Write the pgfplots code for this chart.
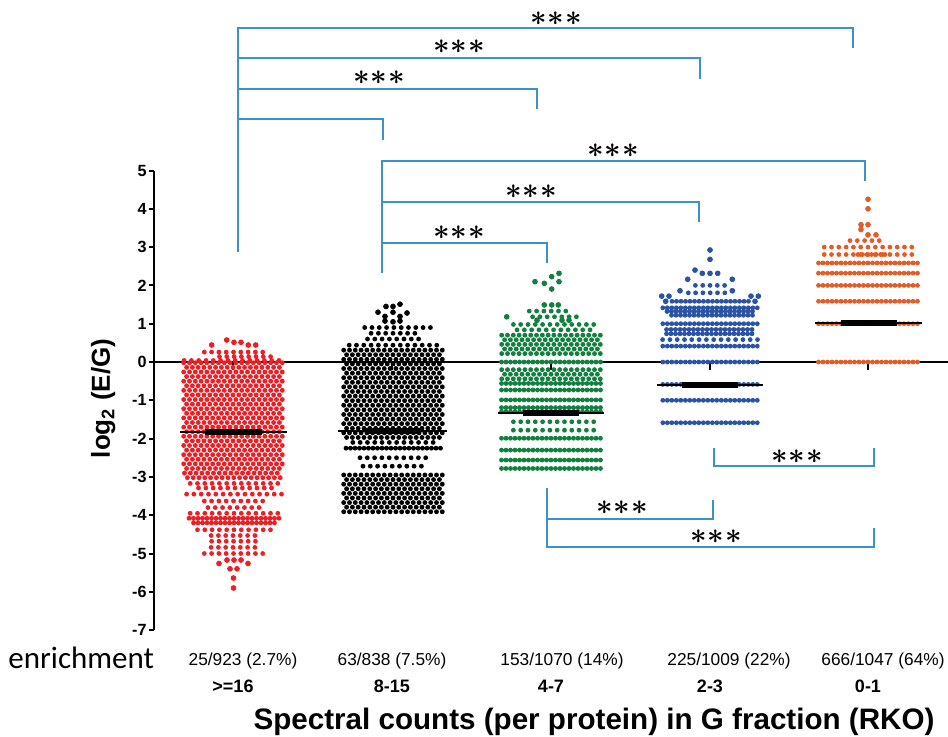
\documentclass[border=0pt]{standalone}
\usepackage{pgfplots}
\pgfplotsset{compat=1.18}
\usepackage{fontspec}
\setmainfont{Liberation Sans}
\newfontfamily\calibri{Carlito}
\definecolor{cred}{RGB}{237,30,36}
\definecolor{cgreen}{RGB}{18,128,62}
\definecolor{cblue}{RGB}{42,82,165}
\definecolor{corange}{RGB}{226,92,38}
\definecolor{cbrk}{RGB}{62,142,210}
\pgfplotsset{
 rowS/.style={no markers, line width=2.4pt, line cap=round, dash pattern=on 0pt off 3.65pt, unbounded coords=jump, forget plot},
 rowSo/.style={rowS, dash phase=1.825pt},
 rowD/.style={no markers, line width=2.4pt, line cap=round, dash pattern=on 0pt off 2.25pt, unbounded coords=jump, forget plot},
 rowB/.style={no markers, line width=2.45pt, line cap=round, dash pattern=on 0pt off 2.9pt, unbounded coords=jump, forget plot},
 rowBo/.style={rowB, dash phase=1.45pt},
 dots/.style={only marks, mark=*, mark size=1.2pt, mark options={draw=none}, forget plot},
 med/.style={no markers, line width=1pt, forget plot, black},
 medthick/.style={no markers, line width=3.3pt, forget plot, black},
}
\newcommand{\stars}{{\fontsize{14.5}{14.5}\selectfont\boldmath$\mathord{\ast}\kern0.4pt\mathord{\ast}\kern0.4pt\mathord{\ast}$}}
\begin{document}
\begin{tikzpicture}
\begin{axis}[
  scale only axis, width=397pt, height=229.8pt,
  xmin=154, xmax=948, ymin=-7, ymax=5,
  axis x line=none, axis y line=left,
  axis line style={-, line width=1pt},
  ytick={-7,-6,-5,-4,-3,-2,-1,0,1,2,3,4,5},
  yticklabels={-7,-6,-5,-4,-3,-2,-1,0,1,2,3,4,5},
  tick align=outside, major tick length=2.5pt,
  every tick/.style={line width=1pt, black},
  yticklabel style={font=\fontsize{8.1}{9}\selectfont\bfseries, inner sep=0pt, xshift=-1pt},
  clip=false,
]
\coordinate (BL) at (axis cs:0,-9.765);
\coordinate (TR) at (axis cs:948,9.452);
% zero line and x ticks
\draw[line width=1pt] (axis cs:154,0) -- (axis cs:948,0);
\draw[line width=1pt] (axis cs:233,0) -- (axis cs:233,-0.21);
\draw[line width=1pt] (axis cs:392,0) -- (axis cs:392,-0.21);
\draw[line width=1pt] (axis cs:551,0) -- (axis cs:551,-0.21);
\draw[line width=1pt] (axis cs:710,0) -- (axis cs:710,-0.21);
\draw[line width=1pt] (axis cs:868,0) -- (axis cs:868,-0.21);

% ---------- RED (>=16)
\addplot[cred, rowB] coordinates {(183.7,-0.02)(282.9,-0.02)(0,nan)(183.7,-0.26)(282.9,-0.26)(0,nan)(183.7,-0.50)(282.9,-0.50)(0,nan)(183.7,-0.74)(282.9,-0.74)(0,nan)(183.7,-0.98)(282.9,-0.98)(0,nan)(183.7,-1.22)(282.9,-1.22)(0,nan)(183.7,-1.46)(282.9,-1.46)(0,nan)(183.7,-1.70)(282.9,-1.70)(0,nan)(183.7,-1.94)(282.9,-1.94)(0,nan)(183.7,-2.18)(282.9,-2.18)(0,nan)(183.7,-2.42)(282.9,-2.42)(0,nan)(183.7,-2.66)(282.9,-2.66)(0,nan)(184.5,-2.90)(282,-2.90)};
\addplot[cred, rowBo] coordinates {(183.7,-0.14)(282.9,-0.14)(0,nan)(183.7,-0.38)(282.9,-0.38)(0,nan)(183.7,-0.62)(282.9,-0.62)(0,nan)(183.7,-0.86)(282.9,-0.86)(0,nan)(183.7,-1.10)(282.9,-1.10)(0,nan)(183.7,-1.34)(282.9,-1.34)(0,nan)(183.7,-1.58)(282.9,-1.58)(0,nan)(183.7,-1.82)(282.9,-1.82)(0,nan)(183.7,-2.06)(282.9,-2.06)(0,nan)(183.7,-2.30)(282.9,-2.30)(0,nan)(183.7,-2.54)(282.9,-2.54)(0,nan)(183.7,-2.78)(282.9,-2.78)(0,nan)(184.5,-3.02)(282,-3.02)};
\addplot[cred, rowS] coordinates {(204.3,0.26)(263,0.26)(0,nan)(219.5,0.14)(270.9,0.14)(0,nan)(184.1,0.04)(279.3,0.04)(0,nan)(190.2,-3.17)(278.1,-3.17)(0,nan)(186.6,-3.45)(281.8,-3.45)(0,nan)(204.3,-3.63)(263,-3.63)(0,nan)(190.2,-3.95)(278.1,-3.95)(0,nan)(197.5,-4.38)(270.8,-4.38)(0,nan)(211.1,-4.53)(255.2,-4.53)(0,nan)(211.1,-4.84)(255.2,-4.84)(0,nan)(204.3,-5.00)(263,-5.00)};
\addplot[cred, rowSo] coordinates {(194.9,-3.29)(275.5,-3.29)(0,nan)(204.3,-3.80)(263,-3.80)(0,nan)(208,-4.68)(259.4,-4.68)};
\addplot[cred, rowD] coordinates {(189,-4.08)(279.3,-4.08)(0,nan)(193.5,-4.20)(274.8,-4.20)};
\addplot[cred, dots] coordinates {(226.7,0.574)(234,0.514)(241,0.514)(211.7,0.444)(248.3,0.444)(255.7,0.444)(227,-5.17)(234,-5.17)(241,-5.17)(219,-5.26)(248,-5.26)(230,-5.40)(237,-5.40)(233.5,-5.64)(233.5,-5.90)};

% ---------- BLACK (8-15)
\addplot[black, rowB] coordinates {(343.7,0.31)(442.6,0.31)(0,nan)(343.7,0.07)(442.6,0.07)(0,nan)(343.7,-0.17)(442.6,-0.17)(0,nan)(343.7,-0.41)(442.6,-0.41)(0,nan)(343.7,-0.65)(442.6,-0.65)(0,nan)(343.7,-0.89)(442.6,-0.89)(0,nan)(343.7,-1.13)(442.6,-1.13)(0,nan)(343.7,-1.37)(442.6,-1.37)(0,nan)(343.7,-1.61)(442.6,-1.61)(0,nan)(343.7,-1.85)(442.6,-1.85)(0,nan)(343.7,-2.95)(442.6,-2.95)(0,nan)(343.7,-3.19)(442.6,-3.19)(0,nan)(343.7,-3.43)(442.6,-3.43)(0,nan)(343.7,-3.67)(442.6,-3.67)(0,nan)(343.7,-3.91)(442.6,-3.91)};
\addplot[black, rowBo] coordinates {(343.7,0.19)(442.6,0.19)(0,nan)(343.7,-0.05)(442.6,-0.05)(0,nan)(343.7,-0.29)(442.6,-0.29)(0,nan)(343.7,-0.53)(442.6,-0.53)(0,nan)(343.7,-0.77)(442.6,-0.77)(0,nan)(343.7,-1.01)(442.6,-1.01)(0,nan)(343.7,-1.25)(442.6,-1.25)(0,nan)(343.7,-1.49)(442.6,-1.49)(0,nan)(343.7,-1.73)(442.6,-1.73)(0,nan)(343.7,-1.97)(442.6,-1.97)(0,nan)(343.7,-3.07)(442.6,-3.07)(0,nan)(343.7,-3.31)(442.6,-3.31)(0,nan)(343.7,-3.55)(442.6,-3.55)(0,nan)(343.7,-3.79)(442.6,-3.79)};
\addplot[black, rowS] coordinates {(364.7,0.90)(430.6,0.90)(0,nan)(371.1,0.75)(415.2,0.75)(0,nan)(367.5,0.60)(418.9,0.60)(0,nan)(349.2,0.44)(437.1,0.44)(0,nan)(360,-2.50)(426,-2.50)(0,nan)(363,-2.72)(423,-2.72)};
\addplot[black, rowSo] coordinates {(349.2,-2.10)(437.1,-2.10)};
\addplot[black, rowD] coordinates {(346,-2.25)(440.5,-2.25)};
\addplot[black, dots] coordinates {(400,1.51)(386,1.45)(393,1.45)(378,1.30)(393,1.30)(407,1.28)(385,1.19)(400,1.19)(385,1.07)(393,1.05)(400,1.07)};

% ---------- GREEN (4-7)
\addplot[cgreen, rowB] coordinates {(501.7,0.70)(600.6,0.70)(0,nan)(501.7,0.46)(600.6,0.46)(0,nan)(501.7,0.22)(600.6,0.22)(0,nan)(501.7,-0.20)(600.6,-0.20)(0,nan)(501.7,-0.44)(600.6,-0.44)};
\addplot[cgreen, rowBo] coordinates {(501.7,0.58)(600.6,0.58)(0,nan)(501.7,0.34)(600.6,0.34)(0,nan)(501.7,-0.32)(600.6,-0.32)};
\addplot[cgreen, rowD] coordinates {(501.5,0)(600.8,0)(0,nan)(501.5,-0.56)(600.8,-0.56)(0,nan)(501.5,-0.73)(600.8,-0.73)(0,nan)(501.5,-0.99)(600.8,-0.99)(0,nan)(501.5,-1.19)(600.8,-1.19)(0,nan)(501.5,-1.30)(600.8,-1.30)(0,nan)(501.5,-1.99)(600.8,-1.99)(0,nan)(501.5,-2.30)(600.8,-2.30)(0,nan)(501.5,-2.56)(600.8,-2.56)(0,nan)(501.5,-2.78)(600.8,-2.78)};
\addplot[cgreen, rowS] coordinates {(529.3,1.33)(566,1.33)(0,nan)(532.6,1.18)(576.7,1.18)(0,nan)(513.4,0.98)(594,0.98)(0,nan)(513.4,-1.56)(594,-1.56)(0,nan)(513.4,-1.78)(594,-1.78)};
\addplot[cgreen, rowSo] coordinates {(513.4,0.84)(594,0.84)};
\addplot[cgreen, dots] coordinates {(559,2.315)(551.7,2.228)(535,2.097)(544.3,2.054)(559,2.097)(551.7,1.906)(544.3,1.49)(551.7,1.49)(558.3,1.49)(506.7,1.18)(537,1.09)(562,1.09)(569,1.09)};

% ---------- BLUE (2-3)
\addplot[cblue, rowD] coordinates {(672,1.585)(748.5,1.585)(0,nan)(662.8,1.415)(757.6,1.415)(0,nan)(667,1.32)(754,1.32)(0,nan)(671.5,1.22)(752.5,1.22)(0,nan)(662.8,1.0)(757.6,1.0)(0,nan)(666.5,0.85)(754.8,0.85)(0,nan)(666.5,0.737)(754.8,0.737)(0,nan)(662.8,0.415)(757.6,0.415)(0,nan)(662.8,0)(757.6,0)(0,nan)(662.8,-0.585)(757.6,-0.585)(0,nan)(662.8,-1.0)(757.6,-1.0)(0,nan)(662.8,-1.585)(757.6,-1.585)};
\addplot[cblue, rowS] coordinates {(695.4,2.0)(724.9,2.0)(0,nan)(688.3,1.807)(725.1,1.807)(0,nan)(662.6,0.585)(757.8,0.585)};
\addplot[cblue, dots] coordinates {(710,2.924)(710,2.68)(695,2.40)(702.3,2.315)(710,2.315)(717.7,2.315)(687.7,2.16)(732.3,2.16)(680,1.86)(732.3,1.86)(661.7,1.72)(669,1.72)(751,1.72)(758.3,1.72)(665.7,1.585)(755,1.585)};

% ---------- ORANGE (0-1)
\addplot[corange, rowD] coordinates {(858,2.807)(886.3,2.807)(0,nan)(818.5,2.585)(917.8,2.585)(0,nan)(818.5,2.32)(917.8,2.32)(0,nan)(818.5,2.0)(917.8,2.0)(0,nan)(818.5,1.585)(917.8,1.585)(0,nan)(818.5,1.0)(917.8,1.0)(0,nan)(818.5,0)(917.8,0)};
\addplot[corange, rowS] coordinates {(850,3.17)(879.5,3.17)(0,nan)(824.2,3.0)(912.1,3.0)(0,nan)(824.2,2.807)(912.1,2.807)};
\addplot[corange, dots] coordinates {(868,4.25)(868,4.0)(861,3.585)(868,3.585)(861,3.46)(868,3.32)(876,3.32)};

% ---------- medians
\addplot[med, unbounded coords=jump] coordinates {(180,-1.83)(287,-1.83)(0,nan)(338,-1.80)(447,-1.80)(0,nan)(498,-1.33)(604,-1.33)(0,nan)(657,-0.60)(763,-0.60)(0,nan)(815,1.02)(922,1.02)};
\addplot[medthick, unbounded coords=jump] coordinates {(205,-1.83)(262,-1.83)(0,nan)(365,-1.80)(420,-1.80)(0,nan)(523,-1.33)(579,-1.33)(0,nan)(682,-0.60)(738,-0.60)(0,nan)(841,1.02)(897,1.02)};

% ---------- brackets
\begin{scope}[cbrk, line width=0.8pt]
\draw (axis cs:238,2.872) -- (axis cs:238,8.721) -- (axis cs:853,8.721) -- (axis cs:853,8.198);
\draw (axis cs:238,7.937) -- (axis cs:700,7.937) -- (axis cs:700,7.389);
\draw (axis cs:238,7.128) -- (axis cs:537,7.128) -- (axis cs:537,6.606);
\draw (axis cs:238,6.345) -- (axis cs:383,6.345) -- (axis cs:383,5.796);
\draw (axis cs:382,2.324) -- (axis cs:382,5.248) -- (axis cs:865,5.248) -- (axis cs:865,4.726);
\draw (axis cs:382,4.178) -- (axis cs:699,4.178) -- (axis cs:699,3.655);
\draw (axis cs:382,3.107) -- (axis cs:547,3.107) -- (axis cs:547,2.585);
\draw (axis cs:714,-2.245) -- (axis cs:714,-2.715) -- (axis cs:874,-2.715) -- (axis cs:874,-2.245);
\draw (axis cs:547,-3.290) -- (axis cs:547,-4.830) -- (axis cs:874,-4.830) -- (axis cs:874,-4.334);
\draw (axis cs:547,-4.099) -- (axis cs:713,-4.099) -- (axis cs:713,-3.603);
\end{scope}
\begin{scope}[every node/.style={inner sep=0pt}]
\node at (axis cs:556,8.97) {\stars};
\node at (axis cs:459,8.225) {\stars};
\node at (axis cs:379,7.415) {\stars};
\node at (axis cs:613,5.509) {\stars};
\node at (axis cs:531,4.439) {\stars};
\node at (axis cs:459,3.368) {\stars};
\node at (axis cs:797,-2.480) {\stars};
\node at (axis cs:622,-3.812) {\stars};
\node at (axis cs:716,-4.569) {\stars};
\end{scope}

% ---------- texts
\node[rotate=90, anchor=base, inner sep=0pt, font=\fontsize{13}{14}\selectfont\bfseries] at (axis cs:110,-0.95) {log\textsubscript{2} (E/G)};
\node[anchor=base west, inner sep=0pt, font=\calibri\fontsize{15.5}{16}\selectfont] at (axis cs:8,-7.990) {enrichment};
\node[anchor=base, inner sep=0pt, font=\fontsize{8.65}{10}\selectfont] at (axis cs:243,-7.911) {25/923 (2.7\%)};
\node[anchor=base, inner sep=0pt, font=\fontsize{8.65}{10}\selectfont] at (axis cs:392,-7.911) {63/838 (7.5\%)};
\node[anchor=base, inner sep=0pt, font=\fontsize{8.65}{10}\selectfont] at (axis cs:562,-7.911) {153/1070 (14\%)};
\node[anchor=base, inner sep=0pt, font=\fontsize{8.65}{10}\selectfont] at (axis cs:729,-7.911) {225/1009 (22\%)};
\node[anchor=base, inner sep=0pt, font=\fontsize{8.65}{10}\selectfont] at (axis cs:883,-7.911) {666/1047 (64\%)};
\node[anchor=base, inner sep=0pt, font=\fontsize{9}{10}\selectfont\bfseries] at (axis cs:233,-8.642) {>=16};
\node[anchor=base, inner sep=0pt, font=\fontsize{9}{10}\selectfont\bfseries] at (axis cs:392,-8.642) {8-15};
\node[anchor=base, inner sep=0pt, font=\fontsize{9}{10}\selectfont\bfseries] at (axis cs:551,-8.642) {4-7};
\node[anchor=base, inner sep=0pt, font=\fontsize{9}{10}\selectfont\bfseries] at (axis cs:710,-8.642) {2-3};
\node[anchor=base, inner sep=0pt, font=\fontsize{9}{10}\selectfont\bfseries] at (axis cs:868,-8.642) {0-1};
\node[anchor=base, inner sep=0pt, font=\fontsize{14.8}{16}\selectfont\bfseries] at (axis cs:594,-9.582) {Spectral counts (per protein) in G fraction (RKO)};
\end{axis}
\pgfresetboundingbox
\path (BL) rectangle (TR);
\end{tikzpicture}
\end{document}
